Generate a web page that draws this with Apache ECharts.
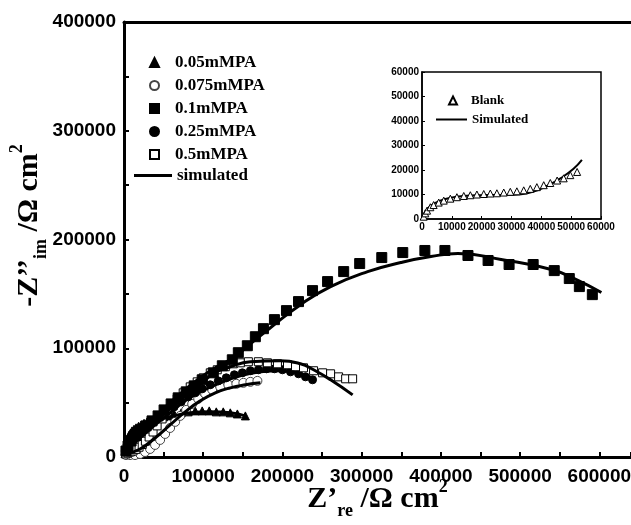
<!DOCTYPE html>
<html>
<head>
<meta charset="utf-8">
<script src="https://cdn.jsdelivr.net/npm/echarts@6/dist/echarts.min.js"></script>
<style>
  html, body { margin: 0; padding: 0; background: #fff; }
  #chart { width: 631px; height: 525px; }
</style>
</head>
<body>
<div id="chart"></div>
<script>
// main plot data, [Z're, -Z''im] in ohm cm2
const pa005 = [[1300, 3000], [1300, 6000], [1300, 9000], [2500, 12000], [3800, 15000], [5000, 17500], [6300, 20000], [8200, 22000], [10100, 24000], [12600, 25500], [15200, 26800], [18300, 28200], [21500, 29500], [25300, 31000], [29100, 32300], [32900, 33300], [36700, 34100], [41200, 35000], [45600, 35900], [50000, 36900], [54400, 37800], [58800, 38700], [63300, 39600], [72200, 40600], [81000, 41500], [89900, 42400], [98700, 42400], [107600, 42400], [116500, 41500], [125300, 41500], [134200, 40600], [143100, 39600], [153200, 37800]]
const pa0075 = [[2500, 1800], [7600, 1800], [13900, 1800], [20300, 2800], [26600, 4600], [32900, 7400], [39200, 11100], [45600, 15700], [51900, 21200], [58200, 26700], [64600, 32300], [70900, 37800], [78500, 43300], [86100, 48800], [93700, 53500], [102500, 58100], [111400, 61800], [121500, 64500], [131700, 66400], [141800, 67300], [150700, 68200], [159500, 69100], [168400, 70000]]
const pa01 = [[2500, 5500], [5100, 10100], [8900, 14700], [13900, 19400], [20300, 24000], [27900, 28600], [35400, 33200], [43000, 37800], [50600, 43300], [59500, 48800], [68400, 54400], [78500, 59900], [88600, 65400], [98700, 71000], [112700, 77400], [124100, 83900], [136700, 89400], [144300, 95900], [155700, 102300], [165800, 110600], [176000, 118000], [189900, 126300], [205100, 134600], [220300, 142900], [238000, 153000], [257000, 161300], [277300, 170500], [297500, 177900], [325400, 183400], [351900, 188000], [379800, 189900], [405100, 189900], [434200, 185300], [459600, 180700], [486100, 177000], [516500, 177000], [543100, 171400], [562100, 164100], [574800, 156700], [591200, 149300]]
const pa025 = [[2500, 4600], [6300, 9200], [11400, 13800], [17700, 18400], [24100, 23000], [31700, 27700], [39200, 32300], [46800, 36900], [54400, 41500], [63300, 46100], [72200, 50700], [81000, 55300], [89900, 59000], [98700, 62700], [108900, 66400], [119000, 70000], [129100, 72800], [139300, 75600], [149400, 77400], [159500, 79300], [169600, 80200], [179800, 81100], [189900, 81100], [200000, 80200], [210200, 78300], [220300, 76500], [229100, 73700], [238000, 71000]]
const pa05 = [[2500, 2800], [5000, 3700], [8000, 4600], [11400, 5500], [15000, 7000], [19000, 9000], [23000, 11500], [27000, 14500], [31700, 18400], [36700, 23000], [41800, 28600], [48100, 35000], [54400, 41500], [60800, 47900], [67100, 53500], [74700, 59000], [83600, 64500], [92400, 69100], [100000, 72800], [108900, 77400], [117700, 80200], [127900, 83000], [138000, 85700], [146900, 86600], [157000, 87600], [169600, 87600], [181000, 86600], [193700, 85700], [206400, 84800], [216500, 83000], [226600, 82000], [239300, 79300], [250700, 77400], [260800, 76500], [270900, 73700], [279800, 71900], [288600, 71900]]

// fitted curves
const fit005 = [[1300, 10100], [7600, 19400], [20300, 26700], [39200, 33200], [58200, 36900], [83600, 40600], [108900, 41500], [134200, 40600], [153200, 37800]]
const fit0075 = [[2500, 2800], [20300, 7400], [39200, 17500], [58200, 29500], [77200, 41500], [96200, 51600], [115200, 59000], [134200, 63600], [153200, 66400], [172200, 68200]]
const fit01 = [[2500, 6500], [20300, 23000], [45600, 41500], [70900, 58100], [96200, 72800], [115200, 82000], [138000, 91200], [159500, 104200], [184800, 118900], [222800, 140100], [260800, 156700], [307600, 170500], [349400, 178800], [387400, 184300], [421600, 187100], [476000, 181600], [539300, 172400], [571000, 163100], [602600, 151200]]
const fit025 = [[3800, 7400], [20300, 17500], [39200, 29500], [58200, 40600], [77200, 51600], [96200, 59900], [121500, 68200], [146900, 74700], [172200, 78300], [197500, 79300], [222800, 76500], [241800, 71000]]
const fit05 = [[3800, 8300], [20300, 19400], [39200, 32300], [58200, 44200], [77200, 56200], [96200, 66400], [112700, 76500], [134200, 83000], [159500, 87600], [197500, 88500], [222800, 85700], [239300, 80200], [260800, 71000], [288600, 57100]]

// inset: blank
const blank = [[560, 950], [1100, 2300], [1700, 3400], [2800, 4800], [3900, 5700], [5600, 6700], [7300, 7500], [9500, 8300], [11700, 8900], [14000, 9400], [16200, 9700], [18400, 10000], [20700, 10200], [22900, 10400], [25100, 10500], [27400, 10800], [29600, 11100], [31800, 11300], [34100, 11700], [36300, 12300], [38500, 13000], [40800, 13800], [43000, 14700], [45300, 15700], [47500, 16600], [49700, 17900], [52000, 19200]]
const fitBlank = [[300, 0], [1100, 3000], [2800, 5300], [6100, 7500], [10600, 8900], [15100, 9500], [19600, 9700], [24000, 9800], [28500, 9800], [33000, 10100], [37400, 11200], [41900, 13500], [46400, 16600], [50800, 20500], [53600, 24100]]

const markerLegend = ['0.05mMPA', '0.075mMPA', '0.1mMPA', '0.25mMPA', '0.5mMPA']

const serif = "'Liberation Serif', 'Times New Roman', serif"
const sans = "'Liberation Sans', Arial, sans-serif"

const titleRich = {
  m: { fontSize: 30, fontWeight: 'bold', fontFamily: serif, color: '#000', lineHeight: 42 },
  s: { fontSize: 18, fontWeight: 'bold', fontFamily: serif, color: '#000', lineHeight: 19, verticalAlign: 'bottom' },
  p: { fontSize: 18, fontWeight: 'bold', fontFamily: serif, color: '#000', lineHeight: 19, verticalAlign: 'top' },
}

function scatter(name, data, symbol, size, fill, border) {
  return {
    name: name,
    type: 'scatter',
    data: data,
    symbol: symbol,
    symbolSize: size,
    itemStyle: { color: fill, borderColor: border, borderWidth: 1, opacity: 1 },
  }
}

function fitLine(name, data, width) {
  return {
    name: name,
    type: 'line',
    data: data,
    smooth: true,
    symbol: 'none',
    showSymbol: false,
    itemStyle: { color: '#000' },
    lineStyle: { color: '#000', width: width },
  }
}

function plain(v) {
  return String(v)
}
// only every 2nd tick gets a label
const everyOther = (step) => (v) => (v % step === 0 ? String(v) : '')

const legendText = (size, padLeft) => ({
  fontFamily: serif, fontWeight: 'bold', fontSize: size, color: '#000', lineHeight: size, padding: [0, 0, 0, padLeft],
})

const chart = echarts.init(document.getElementById('chart'))
chart.setOption({
  animation: false,
  backgroundColor: '#fff',
  grid: [
    { left: 124, top: 22, right: 0, bottom: 68, outerBoundsMode: 'none' },
    { left: 422, top: 72, right: 30, bottom: 306, outerBoundsMode: 'none', show: true, borderColor: '#000', borderWidth: 1.5, backgroundColor: '#fff', z: 5 },
  ],
  legend: [
    {
      data: markerLegend,
      orient: 'vertical',
      left: 149, top: 54, padding: 0,
      itemWidth: 9, itemHeight: 9, itemGap: 6,
      textStyle: legendText(17, 11),
    },
    {
      data: [{ name: 'simulated', icon: 'rect' }],
      left: 134, top: 167, padding: 0,
      itemWidth: 38, itemHeight: 3,
      textStyle: legendText(17, 0),
    },
    {
      data: ['Blank'],
      left: 448, top: 94, padding: 0,
      itemWidth: 8, itemHeight: 8,
      textStyle: legendText(13, 9),
      z: 10,
    },
    {
      data: [{ name: 'Simulated', icon: 'rect' }],
      left: 436, top: 113, padding: 0,
      itemWidth: 31, itemHeight: 2,
      textStyle: legendText(13, 0),
      z: 10,
    },
  ],
  xAxis: [
    {
      type: 'value', gridIndex: 0, min: 0, max: 640000, interval: 50000,
      splitLine: { show: false },
      axisLine: { lineStyle: { color: '#000', width: 3 } },
      axisTick: { inside: true, length: 5, lineStyle: { color: '#000', width: 2 } },
      axisLabel: { formatter: everyOther(100000), margin: 10, fontFamily: sans, fontWeight: 'bold', fontSize: 19, color: '#000' },
      name: '{m|Z’}{s|re}{m| /Ω cm}{p|2}',
      nameLocation: 'middle', nameGap: 21, nameMoveOverlap: false,
      nameTextStyle: { rich: titleRich },
    },
    {
      type: 'value', gridIndex: 0, position: 'top', min: 0, max: 640000,
      splitLine: { show: false }, axisTick: { show: false }, axisLabel: { show: false },
      axisLine: { lineStyle: { color: '#000', width: 3 } },
    },
    {
      type: 'value', gridIndex: 1, min: 0, max: 60000, interval: 10000,
      splitLine: { show: false },
      axisLine: { lineStyle: { color: '#000', width: 1.5 } },
      axisTick: { inside: true, length: 3, lineStyle: { color: '#000' } },
      axisLabel: { formatter: plain, margin: 3, fontFamily: sans, fontWeight: 'bold', fontSize: 10, color: '#000' },
      z: 6,
    },
  ],
  yAxis: [
    {
      type: 'value', gridIndex: 0, min: 0, max: 400000, interval: 50000,
      splitLine: { show: false },
      axisLine: { lineStyle: { color: '#000', width: 3 } },
      axisTick: { inside: true, length: 5, lineStyle: { color: '#000', width: 2 } },
      axisLabel: { formatter: everyOther(100000), margin: 8, fontFamily: sans, fontWeight: 'bold', fontSize: 19, color: '#000' },
      name: '{m|-Z’’}{s|im}{m| /Ω cm}{p|2}',
      nameLocation: 'middle', nameGap: 74, nameMoveOverlap: false,
      nameTextStyle: { rich: titleRich, padding: [0, 0, 0, 28] },
    },
    {
      type: 'value', gridIndex: 1, min: 0, max: 60000, interval: 10000,
      splitLine: { show: false },
      axisLine: { lineStyle: { color: '#000', width: 1.5 } },
      axisTick: { inside: true, length: 3, lineStyle: { color: '#000' } },
      axisLabel: { formatter: plain, margin: 3, fontFamily: sans, fontWeight: 'bold', fontSize: 10, color: '#000' },
      z: 6,
    },
  ],
  series: [
    fitLine('simulated', fit005, 3),
    fitLine('simulated', fit0075, 3),
    fitLine('simulated', fit025, 3),
    fitLine('simulated', fit05, 3),
    fitLine('simulated', fit01, 3),
    scatter('0.05mMPA', pa005, 'triangle', 8, '#000', '#000'),
    scatter('0.075mMPA', pa0075, 'circle', 9, '#fff', '#444'),
    scatter('0.25mMPA', pa025, 'circle', 8, '#000', '#000'),
    scatter('0.5mMPA', pa05, 'rect', 8, '#fff', '#000'),
    scatter('0.1mMPA', pa01, 'rect', 10, '#000', '#000'),
    Object.assign(scatter('Blank', blank, 'triangle', 7, '#fff', '#000'), { xAxisIndex: 2, yAxisIndex: 1, z: 7 }),
    Object.assign(fitLine('Simulated', fitBlank, 2), { xAxisIndex: 2, yAxisIndex: 1, z: 7 }),
  ],
})
</script>
</body>
</html>
